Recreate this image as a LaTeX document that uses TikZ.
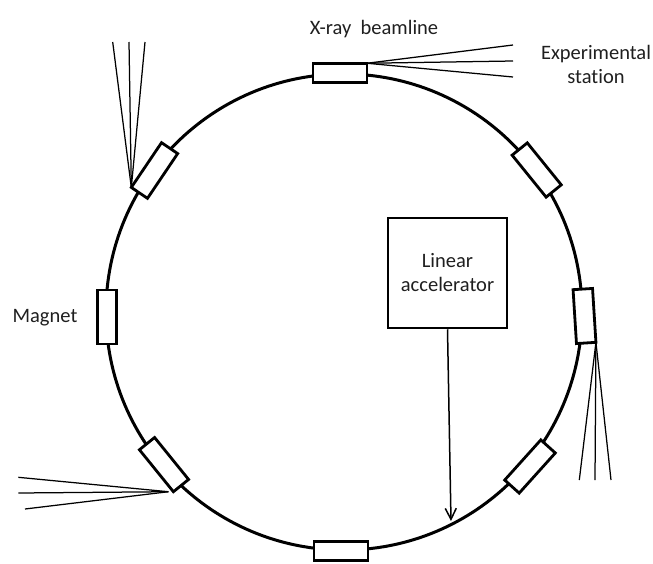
\documentclass[tikz,border=0pt]{standalone}
\usepackage{fontspec}
\setmainfont{Carlito}[Ligatures={NoCommon}]
\usetikzlibrary{arrows.meta}
\begin{document}
\begin{tikzpicture}[x=1pt,y=-1pt,
  magnet/.style={draw, fill=white, line width=2.8pt, minimum width=54pt,
    minimum height=19.5pt, inner sep=0pt, outer sep=0pt},
  ring/.style={line width=3pt},
  ray/.style={line width=1.25pt},
  lbl/.style={text=black!88, font=\fontsize{20.5}{24}\selectfont, inner sep=0pt},
  linac/.style={draw, line width=2.5pt, minimum width=119pt, minimum height=110pt,
    align=center, text=black!88, font=\fontsize{20.5}{24}\selectfont, inner sep=0pt},
  inject/.style={line width=1.5pt, -{Straight Barb[length=11pt,width=11pt]}}
]
\useasboundingbox (0,0) rectangle (653,563);

% storage ring
\draw[ring] (344,312) circle[radius=238pt];

% bending magnets around the ring
\node[magnet]             (mT)  at (340,73)    {};
\node[magnet]             (mB)  at (341,551)   {};
\node[magnet, rotate=90]  (mL)  at (107,317)   {};
\node[magnet, rotate=93.6](mR)  at (584.5,316) {};
\node[magnet, rotate=56]  (mUL) at (154.5,170.5) {};
\node[magnet, rotate=-51] (mUR) at (536.7,170) {};
\node[magnet, rotate=48]  (mLR) at (530,466.5) {};
\node[magnet, rotate=-51] (mLL) at (164,464.6) {};

% ends of the beamline fans
\coordinate (t1) at (513,45);
\coordinate (t2) at (513,61);
\coordinate (t3) at (513,77);
\coordinate (u1) at (112.7,42);
\coordinate (u2) at (129,42);
\coordinate (u3) at (145,42);
\coordinate (r1) at (579.3,480);
\coordinate (r2) at (595,480);
\coordinate (r3) at (611,480);
\coordinate (l1) at (18.3,477.3);
\coordinate (l2) at (18.3,493);
\coordinate (l3) at (25,509);

% synchrotron light fans leaving the magnets
\foreach \e in {t1,t2,t3} \draw[ray] (mT.north east) -- (\e);
\foreach \e in {u1,u2,u3} \draw[ray] (mUL.north west) -- (\e);
\foreach \e in {r1,r2,r3} \draw[ray] (mR.south west) -- (\e);
\foreach \e in {l1,l2,l3} \draw[ray] ([xshift=-5pt]mLL.south east) -- (\e);

% injector
\node[linac] (lin) at (447.5,273) {Linear\\accelerator};
\coordinate (inj) at (451,521);
\draw[inject] (lin.south) -- (inj);

% labels
\node[lbl, anchor=base] (xr) at (374,34) {X-ray\ \ beamline};
\node[lbl, align=center] (es) at (596,64.7) {Experimental\\station};
\node[lbl, anchor=base] (mg) at (45,322) {Magnet};
\end{tikzpicture}
\end{document}
